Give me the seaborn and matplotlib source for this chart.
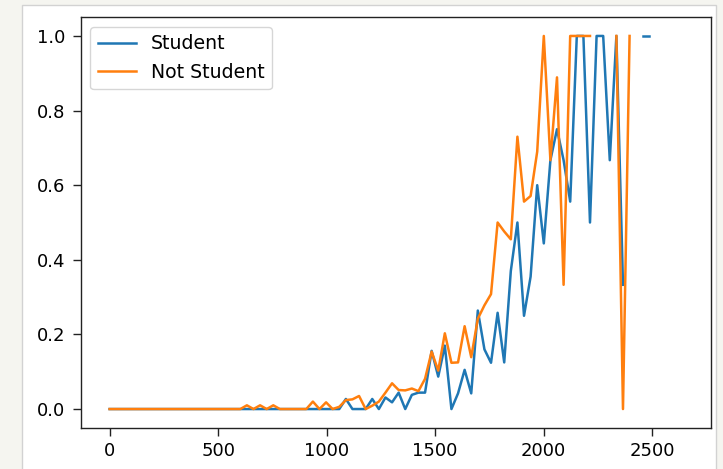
import numpy as np
import pandas as pd
import matplotlib
matplotlib.use("Agg")
import matplotlib.pyplot as plt
from matplotlib.lines import Line2D
from matplotlib.patches import Rectangle
import seaborn as sns

# Balance bins: the zero-balance bin, then evenly spaced bins of ~30 dollars
n_bins = 87
bin_width = 30.41
bin_offset = 24.4
balance = np.concatenate([[0.0], bin_offset + bin_width * np.arange(1, n_bins)])

nan = np.nan

# Default rate per balance bin for students
student_rate = [
    0, 0, 0, 0, 0, 0, 0, 0, 0, 0,
    0, 0, 0, 0, 0, 0, 0, 0, 0, 0,
    0, 0, 0, 0, 0, 0, 0, 0, 0, 0,
    0, 0, 0, 0, 0, 0.027, 0, 0, 0, 0.027,
    0, 0.031, 0.018, 0.044, 0, 0.038, 0.044, 0.044, 0.156, 0.087,
    0.17, 0, 0.042, 0.105, 0.042, 0.264, 0.16, 0.124, 0.258, 0.125,
    0.37, 0.5, 0.25, 0.355, 0.6, 0.444, 0.667, 0.75, 0.667, 0.556,
    1, 1, 0.5, 1, 1, 0.667, 1, 0.333, nan, nan,
    1, 1, nan, nan, nan, nan, 1,
]

# Default rate per balance bin for non-students
nonstudent_rate = [
    0, 0, 0, 0, 0, 0, 0, 0, 0, 0,
    0, 0, 0, 0, 0, 0, 0, 0, 0, 0,
    0.01, 0, 0.01, 0, 0.01, 0, 0, 0, 0, 0,
    0.02, 0, 0.018, 0, 0.006, 0.024, 0.026, 0.035, 0, 0.009,
    0.02, 0.044, 0.069, 0.051, 0.05, 0.055, 0.048, 0.081, 0.154, 0.103,
    0.203, 0.124, 0.125, 0.222, 0.139, 0.242, 0.278, 0.308, 0.5, 0.476,
    0.455, 0.73, 0.556, 0.571, 0.69, 1, 0.667, 0.889, 0.333, 1,
    1, 1, 1, nan, nan, nan, 1, 0, 1, nan,
    nan, nan, nan, nan, nan, nan, nan,
]

series_names = ["Student", "Not Student"]
series_colors = ["#1f77b4", "#ff7f0e"]

# Long table; empty bins are dropped and each unbroken run gets its own unit
frames = []
for name, rate in zip(series_names, [student_rate, nonstudent_rate]):
    part = pd.DataFrame({"balance": balance, "rate": np.asarray(rate, float)})
    part["status"] = name
    part["segment"] = part["rate"].isna().cumsum()
    frames.append(part.dropna(subset=["rate"]))
data = pd.concat(frames, ignore_index=True)
data["unit"] = data["status"] + "_" + data["segment"].astype(str)

plt.rcParams["font.family"] = ["DejaVu Sans"]
plt.rcParams["font.size"] = 13

fig = plt.figure(figsize=(7.23, 4.69), dpi=100, facecolor="#f5f5f0")
fig.patches.append(Rectangle((22 / 723, -0.02), (716 - 22) / 723, 1.02 - 5.5 / 469,
                             transform=fig.transFigure, facecolor="white",
                             edgecolor="#d2d2d2", lw=1.0, zorder=-1))
ax = fig.add_axes([81 / 723, 41.3 / 469, 630 / 723, 410.4 / 469])
ax.set_facecolor("white")

sns.lineplot(data=data, x="balance", y="rate", hue="status", units="unit",
             estimator=None, hue_order=series_names,
             palette=dict(zip(series_names, series_colors)),
             linewidth=1.8, legend=False, ax=ax)

ax.set_xlabel("")
ax.set_ylabel("")
for side in ax.spines.values():
    side.set_color("#222222")
    side.set_linewidth(1.0)
ax.tick_params(axis="both", labelsize=13, length=5.5, width=1.0, color="#222222")
ax.tick_params(axis="y", pad=6)
ax.tick_params(axis="x", pad=4.5)

handles = [Line2D([], [], color=c, lw=1.8) for c in series_colors]
ax.legend(handles, series_names, loc="upper left", fontsize=13.6,
          framealpha=0.8, edgecolor="#cccccc")

fig.savefig("out.png", dpi=100, facecolor=fig.get_facecolor())
